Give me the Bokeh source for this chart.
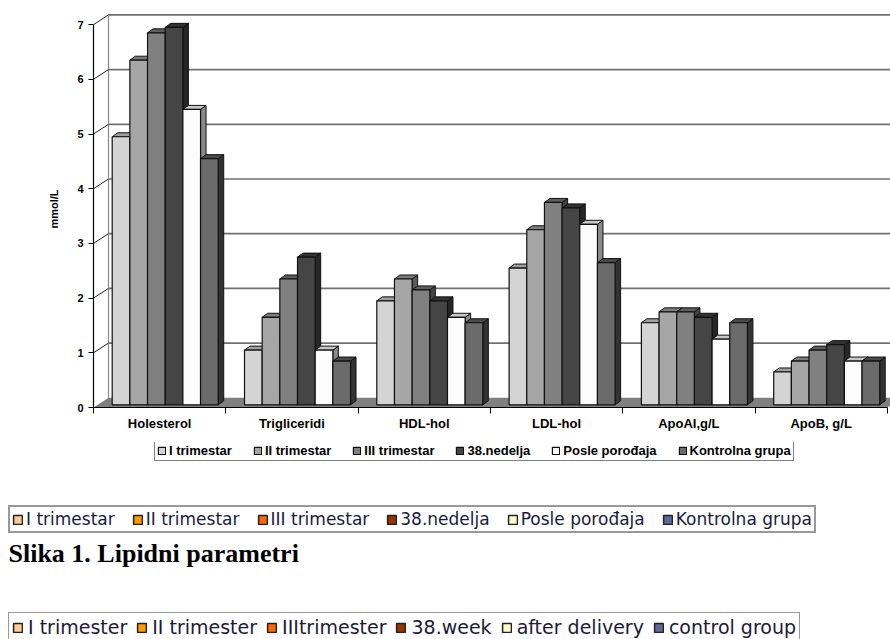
from bokeh.plotting import figure
from bokeh.models import Range1d, FixedTicker, LinearAxis, Legend, LegendItem, Label
from bokeh.layouts import column
from bokeh.embed import file_html
from bokeh.resources import INLINE

# ---------------- data ----------------
categories = ["Holesterol", "Trigliceridi", "HDL-hol", "LDL-hol", "ApoAI,g/L", "ApoB, g/L"]
series_names = ["I trimestar", "II trimestar", "III trimestar", "38.nedelja",
                "Posle porođaja", "Kontrolna grupa"]
i_trimestar = [4.9, 1.0, 1.9, 2.5, 1.5, 0.6]
ii_trimestar = [6.3, 1.6, 2.3, 3.2, 1.7, 0.8]
iii_trimestar = [6.8, 2.3, 2.1, 3.7, 1.7, 1.0]
nedelja_38 = [6.9, 2.7, 1.9, 3.6, 1.6, 1.1]
posle_porodjaja = [5.4, 1.0, 1.6, 3.3, 1.2, 0.8]
kontrolna_grupa = [4.5, 0.8, 1.5, 2.6, 1.5, 0.8]
y_ticks = [0, 1, 2, 3, 4, 5, 6, 7]
y_title = "mmol/L"
caption = "Slika 1. Lipidni parametri"
legend_sr = ["I trimestar", "II trimestar", "III trimestar", "38.nedelja",
             "Posle porođaja", "Kontrolna grupa"]
legend_en = ["I trimester", "II trimester", "IIItrimester", "38.week",
             "after delivery", "control group"]

series_values = [i_trimestar, ii_trimestar, iii_trimestar, nedelja_38,
                 posle_porodjaja, kontrolna_grupa]

# ---------------- styles ----------------
front_colors = ["#d4d4d4", "#a6a6a6", "#808080", "#454545", "#fcfcfc", "#6b6b6b"]
top_colors = ["#a0a0a0", "#7c7c7c", "#5e5e5e", "#333333", "#c8c8c8", "#4a4a4a"]
side_colors = ["#8a8a8a", "#5c5c5c", "#444444", "#262626", "#8a8a8a", "#333333"]
color_legend = ["#ffcc99", "#ff9900", "#ff6600", "#993300", "#ffffcc", "#666699"]

W, H = 890, 639
LEFT, TOP, BOTTOM_Y = 93, 10, 407      # chart frame edges in page pixels
H1 = 442                               # height of the chart figure
H2 = H - H1                            # height of the lower figure
PX_X = 132.3   # pixels per category
PX_Y = 54.7    # pixels per unit
FRAME_W = W - LEFT
FRAME_H = BOTTOM_Y - TOP

wall_dx = 15 / PX_X
wall_dy = 9.7 / PX_Y
bar_w = 17.67 / PX_X
group_off = 18.7 / PX_X
bar_base = 2.7 / PX_Y
bar_ddx = 5.5 / PX_X
bar_ddy = 4.0 / PX_Y

FONT = "Liberation Sans"

x_end = FRAME_W / PX_X
y_end = FRAME_H / PX_Y
n_cat = len(categories)

p = figure(width=W, height=H1, x_range=Range1d(0, x_end), y_range=Range1d(0, y_end),
           output_backend="svg", toolbar_location=None,
           min_border_left=LEFT, min_border_right=0, min_border_top=TOP,
           min_border_bottom=H1 - BOTTOM_Y,
           x_axis_type=None, y_axis_type=None)
p.frame_align = False
p.outline_line_color = None
p.xgrid.visible = False
p.ygrid.visible = False
p.background_fill_color = "white"
p.border_fill_color = "white"

# floor
p.patch([0, n_cat, n_cat + wall_dx, wall_dx], [0, 0, wall_dy, wall_dy],
        fill_color="#808080", line_color=None)

# back wall gridlines
gl = [v for v in y_ticks if v > 0]
p.segment(x0=[wall_dx] * len(gl), y0=[v + wall_dy for v in gl],
          x1=[n_cat + wall_dx] * len(gl), y1=[v + wall_dy for v in gl],
          line_color="#707070", line_width=1.7)
# back wall left edge
p.segment(x0=[wall_dx], y0=[wall_dy], x1=[wall_dx], y1=[max(y_ticks) + wall_dy],
          line_color="#8a8a8a", line_width=1.2)
# side wall diagonals
p.segment(x0=[0] * len(gl), y0=gl, x1=[wall_dx] * len(gl), y1=[v + wall_dy for v in gl],
          line_color="#222222", line_width=1)

# bars (3D look)
sides, tops, fronts = [], [], []
for j, vals in enumerate(series_values):
    lefts = [i + group_off + j * bar_w for i in range(n_cat)]
    rights = [l + bar_w for l in lefts]
    tops_y = [v + bar_base for v in vals]
    side_xs = [[r, r + bar_ddx, r + bar_ddx, r] for r in rights]
    side_ys = [[bar_base, bar_base + bar_ddy, t + bar_ddy, t] for t in tops_y]
    top_xs = [[l, r, r + bar_ddx, l + bar_ddx] for l, r in zip(lefts, rights)]
    top_ys = [[t, t, t + bar_ddy, t + bar_ddy] for t in tops_y]
    sides.append((side_xs, side_ys, side_colors[j]))
    tops.append((top_xs, top_ys, top_colors[j]))
    fronts.append((lefts, rights, tops_y, front_colors[j]))

for xs, ys, c in sides:
    p.patches(xs, ys, fill_color=c, line_color="#111111", line_width=1)
for xs, ys, c in tops:
    p.patches(xs, ys, fill_color=c, line_color="#111111", line_width=1)
for lefts, rights, tops_y, c in fronts:
    p.quad(left=lefts, right=rights, top=tops_y, bottom=[bar_base] * n_cat,
           fill_color=c, line_color="#111111", line_width=1.2)

# axes
centers = [i + 0.5 for i in range(n_cat)]
xaxis = LinearAxis(ticker=FixedTicker(ticks=centers, minor_ticks=list(range(n_cat + 1))),
                   bounds=(0, n_cat),
                   major_label_overrides={c: lab for c, lab in zip(centers, categories)})
xaxis.major_tick_out = 0
xaxis.major_tick_in = 0
xaxis.minor_tick_out = 6
xaxis.minor_tick_in = 0
xaxis.minor_tick_line_color = "black"
xaxis.axis_line_color = "black"
xaxis.axis_line_width = 1.2
xaxis.major_label_standoff = 2
xaxis.major_label_text_font = FONT
xaxis.major_label_text_font_size = "13px"
xaxis.major_label_text_font_style = "bold"
xaxis.major_label_text_color = "black"
p.add_layout(xaxis, "below")

yaxis = LinearAxis(ticker=FixedTicker(ticks=y_ticks, minor_ticks=[]), bounds=(0, max(y_ticks)),
                   axis_label=y_title)
yaxis.major_tick_out = 5
yaxis.major_tick_in = 0
yaxis.major_tick_line_color = "black"
yaxis.minor_tick_line_color = None
yaxis.axis_line_color = "black"
yaxis.axis_line_width = 1.2
yaxis.major_label_standoff = 5
yaxis.major_label_text_font = FONT
yaxis.major_label_text_font_size = "11px"
yaxis.major_label_text_font_style = "bold"
yaxis.major_label_text_color = "black"
yaxis.axis_label_text_font = FONT
yaxis.axis_label_text_font_size = "11px"
yaxis.axis_label_text_font_style = "bold"
yaxis.axis_label_text_color = "black"
yaxis.axis_label_standoff = 14
p.add_layout(yaxis, "left")

# ---------------- lower figure: legends and caption ----------------
q = figure(width=W, height=H2, x_range=Range1d(0, W), y_range=Range1d(0, H2),
           output_backend="svg", toolbar_location=None,
           min_border_left=0, min_border_right=0, min_border_top=0, min_border_bottom=0,
           x_axis_type=None, y_axis_type=None)
q.frame_align = False
q.outline_line_color = None
q.xgrid.visible = False
q.ygrid.visible = False
q.background_fill_color = "white"
q.border_fill_color = "white"

nan = float("nan")


def dummy(color, lw=1.0, lc="black"):
    return q.quad(left=[nan], right=[nan], top=[nan], bottom=[nan], fill_color=color,
                  line_color=lc, line_width=lw)


def loc(px_left, px_bottom):
    # page pixels -> location from the lower figure's bottom-left corner
    return (px_left, H2 - (px_bottom - H1))


gray_items = [LegendItem(label=lab, renderers=[dummy(c, 1.2, "#111111")])
              for lab, c in zip(series_names, front_colors)]
leg1 = Legend(items=gray_items, orientation="horizontal", location=loc(154, 461),
              glyph_width=9, glyph_height=9, label_standoff=3, spacing=21, padding=2,
              margin=0, label_height=12, label_text_font=FONT, label_text_font_size="13px",
              label_text_font_style="bold", label_text_color="black",
              border_line_color="black", border_line_width=1.3,
              background_fill_color="white", background_fill_alpha=1)
q.add_layout(leg1, "center")

col_items = [LegendItem(label=lab, renderers=[dummy(c, 1.5, "#222222")])
             for lab, c in zip(legend_sr, color_legend)]
leg2 = Legend(items=col_items, orientation="horizontal", location=loc(8, 533),
              glyph_width=11, glyph_height=11, label_standoff=3, spacing=17, padding=2,
              margin=0, label_height=14, label_text_font="DejaVu Sans", label_text_font_size="17px",
              label_text_color="#1a1a3a",
              border_line_color="#333333", border_line_width=2,
              background_fill_color="white", background_fill_alpha=1)
q.add_layout(leg2, "center")

cap = Label(x=8, y=H2 - (553 - H1), text=caption,
            text_font="Liberation Serif", text_font_size="26px", text_font_style="bold",
            text_color="black", text_baseline="alphabetic", text_align="left")
q.add_layout(cap)

en_items = [LegendItem(label=lab, renderers=[dummy(c, 1.5, "#222222")])
            for lab, c in zip(legend_en, color_legend)]
leg3 = Legend(items=en_items, orientation="horizontal", location=loc(8, 642),
              glyph_width=11, glyph_height=11, label_standoff=5, spacing=9, padding=3,
              margin=0, label_height=16, label_text_font="DejaVu Sans", label_text_font_size="19px",
              label_text_color="#1a1a3a",
              border_line_color="#333333", border_line_width=1.5,
              background_fill_color="white", background_fill_alpha=1)
q.add_layout(leg3, "center")

layout = column(p, q, spacing=0)
open("out.html", "w").write(file_html(layout, INLINE))
